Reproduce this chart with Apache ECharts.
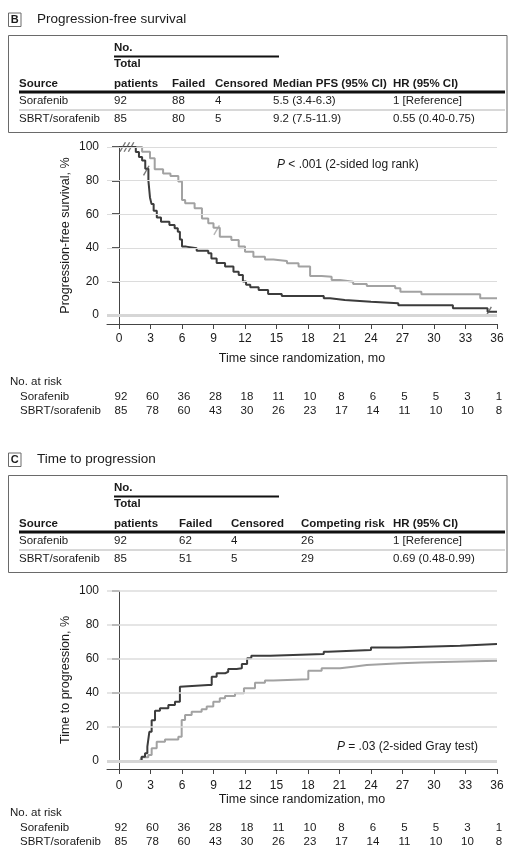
<!DOCTYPE html>
<html><head><meta charset="utf-8">
<script src="https://cdn.jsdelivr.net/npm/echarts@6/dist/echarts.min.js"></script>
<style>html,body{margin:0;padding:0;background:#fff}#c{width:519px;height:862px}</style>
</head><body><div id="c"></div>
<script>
// ---------- data ----------
const xTicks = [0,3,6,9,12,15,18,21,24,27,30,33,36];
const yTicks = [0,20,40,60,80,100];

// Progression-free survival (%), [month, value] step points
const pfsSorafenib = [[0,100],[1.3,100],[1.6,97],[1.9,94],[2.2,92],[2.5,87],[2.8,80],[2.95,70],[3.1,66],[3.3,62],[3.6,58],[4.0,55.5],[4.8,53.6],[5.3,51.6],[5.6,49.6],[5.8,45],[6.0,40.7],[6.4,39.7],[7.4,38.3],[8.5,36.7],[8.8,33.7],[9.3,31],[10.1,28.8],[10.9,25.8],[11.4,23.8],[11.8,20],[12.1,18],[12.5,16.5],[13.3,14.9],[14.2,12.5],[15.5,11.3],[19.5,9.9],[20.1,8.9],[21.5,7.9],[24.0,7],[26.6,5.8],[31.8,4],[35.1,2],[36,2]];
const pfsSBRT = [[0,100],[1.7,100],[2.2,97.2],[2.95,93.3],[3.4,86.7],[4.2,84.3],[4.9,82.7],[5.65,79.4],[6.0,68.5],[6.3,66.5],[7.2,63.5],[7.9,57.5],[8.5,54.6],[9.0,52],[9.6,46.6],[10.7,44.6],[11.4,40.7],[12.0,37.7],[12.8,34.7],[13.9,33.1],[14.7,32.1],[16.0,30.8],[17.1,28.8],[18.2,23.2],[19.3,22.8],[20.25,20.8],[21.05,19.8],[22.3,18.5],[23.6,17.3],[26.3,15.9],[26.8,13.9],[28.8,12.3],[34.4,9.9],[36,9.9]];
const pfsCensorSorafenib = [[0.35,100],[0.75,100],[1.15,100],[2.6,86],[35.2,2]];
const pfsCensorSBRT = [[9.3,50.5]];

// Time to progression (%), cumulative incidence
const ttpSorafenib = [[0,0],[1.84,0],[2.16,2.5],[2.48,4.5],[2.7,8.4],[2.89,17.2],[3.11,24],[3.43,29.6],[3.9,31],[4.7,32.9],[5.33,34.9],[5.8,43.7],[5.97,44.7],[8.5,44.7],[8.83,49.6],[9.3,51.6],[10.1,52.5],[10.4,54.1],[11.2,54.5],[11.7,57],[12.2,60.4],[12.6,61.9],[14.4,62.9],[19.5,64.3],[19.9,65.3],[24.0,66.7],[26.6,67.8],[32.5,68.8],[36,68.8]];
const ttpSBRT = [[0,0],[2.0,0],[2.16,2.2],[2.79,3.5],[3.11,7.5],[3.59,11.4],[4.38,12.7],[5.65,14.3],[5.97,24.1],[6.29,27],[6.92,29],[7.87,30.4],[8.35,32],[8.98,34.9],[9.6,36.9],[10.1,38.2],[11.05,39.8],[11.9,42.8],[12.95,46.1],[13.9,47.3],[14.7,48.1],[18.03,53.1],[19.3,54.5],[21.05,55.5],[22.3,56.5],[23.6,57.5],[26.8,58],[28.8,59],[36,59]];

const atRiskSorafenib = [92,60,36,28,18,11,10,8,6,5,5,3,1];
const atRiskSBRT = [85,78,60,43,30,26,23,17,14,11,10,10,8];
const groupNames = ['Sorafenib','SBRT/sorafenib'];

const tableBHeader = ['Source','patients','Failed','Censored','Median PFS (95% CI)','HR (95% CI)'];
const tableBRows = [['Sorafenib','92','88','4','5.5 (3.4-6.3)','1 [Reference]'],['SBRT/sorafenib','85','80','5','9.2 (7.5-11.9)','0.55 (0.40-0.75)']];
const tableCHeader = ['Source','patients','Failed','Censored','Competing risk','HR (95% CI)'];
const tableCRows = [['Sorafenib','92','62','4','26','1 [Reference]'],['SBRT/sorafenib','85','51','5','29','0.69 (0.48-0.99)']];

// ---------- chart ----------
const FONT = '"Liberation Sans", Arial, sans-serif';
const DARK = '#3c3c3c', GRAY = '#a2a2a2', TXT = '#1a1a1a';
const chart = echarts.init(document.getElementById('c'), null, {renderer:'canvas'});

function xAxisDef(gi, margin, gap){
  return {type:'value', gridIndex:gi, min:-1.143, max:36,
    axisLine:{show:true, onZero:false, lineStyle:{color:'#444', width:1}},
    axisTick:{show:true, inside:false, length:5, customValues:xTicks, lineStyle:{color:'#444'}},
    axisLabel:{customValues:xTicks, margin:margin, color:TXT, fontSize:12, fontFamily:FONT},
    splitLine:{show:false},
    name:'Time since randomization, mo', nameLocation:'middle', nameGap:gap,
    nameTextStyle:{color:TXT, fontSize:12.5, fontFamily:FONT}};
}
function yAxisDef(gi, min, name){
  return {type:'value', gridIndex:gi, min:min, max:100,
    axisLine:{show:true, lineStyle:{color:'#444', width:1}},
    axisTick:{show:true, inside:false, length:7, customValues:yTicks, lineStyle:{color:'#222', width:1.5}},
    axisLabel:{customValues:yTicks, margin:8, color:TXT, fontSize:12, fontFamily:FONT},
    splitLine:{show:false},
    name:name, nameLocation:'middle', nameGap:35, nameRotate:90, nameMoveOverlap:false,
    nameTextStyle:{color:TXT, fontSize:12.5, fontFamily:FONT}};
}
function gridLines(xi, yi, w){
  return {type:'line', xAxisIndex:xi, yAxisIndex:yi, data:[], silent:true, z:1,
    markLine:{silent:true, symbol:['none','none'], animation:false, label:{show:false},
      data: yTicks.map(v => ({yAxis:v, lineStyle:{type:'solid', color: v===0?'#d6d6d6':'#dcdcdc', width: v===0?3:w}}))}};
}
function curve(xi, yi, data, color){
  return {type:'line', xAxisIndex:xi, yAxisIndex:yi, data:data, step:'end', symbol:'none', z:3,
    lineStyle:{color:color, width:2}, animation:false};
}
function censor(data, color){
  return {type:'scatter', xAxisIndex:0, yAxisIndex:0, data:data, z:4,
    symbol:'path://M0,0 L1,0 L1,10 L0,10 Z', symbolSize:[1.4,11], symbolRotate:-30,
    itemStyle:{color:color}, animation:false};
}

chart.setOption({
  animation:false,
  textStyle:{fontFamily:FONT},
  grid:[{left:107, right:22, top:147, height:177},
        {left:107, right:22, top:591, height:178}],
  xAxis:[xAxisDef(0, 9, 28), xAxisDef(1, 11, 23)],
  yAxis:[yAxisDef(0, -5.357, 'Progression-free survival, %'), yAxisDef(1, -4.7, 'Time to progression, %')],
  series:[
    gridLines(0,0,1.2), gridLines(1,1,1.6),
    curve(0,0,pfsSBRT,GRAY), curve(0,0,pfsSorafenib,DARK),
    censor(pfsCensorSorafenib, '#555'), censor(pfsCensorSBRT, GRAY),
    curve(1,1,ttpSBRT,GRAY), curve(1,1,ttpSorafenib,DARK)
  ]
});

// ---------- text & tables ----------
function T(x, y, s, o){
  o = o || {};
  return {type:'text', x:x, y:y, silent:true, style:{text:s, fill:TXT, fontSize:o.size||11.5,
    fontWeight:o.bold?'bold':'normal', fontFamily:FONT, align:o.align||'left', verticalAlign:'middle'}};
}
function L(x1,y1,x2,y2,c,w){ return {type:'line', silent:true, shape:{x1:x1,y1:y1,x2:x2,y2:y2}, style:{stroke:c, lineWidth:w}}; }
function R(x,y,w,h){ return {type:'rect', silent:true, shape:{x:x,y:y,width:w,height:h}, style:{fill:'none', stroke:'#6a6a6a', lineWidth:1}}; }

const g = [];
function panelTitle(letter, title, y){
  g.push(R(8.5, y-6.5, 12.5, 13.5));
  g.push(T(14.8, y+0.5, letter, {bold:true, size:11, align:'center'}));
  g.push(T(37, y, title, {size:13.5}));
}
function table(top, header, rows, cols){
  const yNo = top+13, yRule = top+21.5, yTotal = top+29, yHead = top+49, yThick = top+57, yR1 = top+66, ySep = top+75, yR2 = top+84, bottom = top+97;
  g.push(R(8.5, top+0.5, 498.5, bottom-top));
  g.push(T(cols[1], yNo, 'No.', {bold:true}));
  g.push(L(cols[1], yRule, 279, yRule, '#111', 2.2));
  g.push(T(cols[1], yTotal, 'Total', {bold:true}));
  header.forEach((h,i) => g.push(T(cols[i], yHead, h, {bold:true})));
  g.push(L(19, yThick, 505, yThick, '#111', 3));
  g.push(L(19, ySep, 505, ySep, '#d8d8d8', 2));
  rows[0].forEach((v,i) => g.push(T(cols[i], yR1, v)));
  rows[1].forEach((v,i) => g.push(T(cols[i], yR2, v)));
}
panelTitle('B', 'Progression-free survival', 19.5);
table(35, tableBHeader, tableBRows, [19,114,172,215,273,393]);
panelTitle('C', 'Time to progression', 459.5);
table(475, tableCHeader, tableCRows, [19,114,179,231,301,393]);

// p-values
g.push({type:'text', silent:true, x:277, y:165, style:{text:'{i|P} < .001 (2-sided log rank)', fill:TXT, fontSize:12, fontFamily:FONT, verticalAlign:'middle', align:'left',
  rich:{i:{fontStyle:'italic', fontSize:12, fontFamily:FONT, fill:TXT}}}});
g.push({type:'text', silent:true, x:478, y:747, style:{text:'{i|P} = .03 (2-sided Gray test)', fill:TXT, fontSize:12, fontFamily:FONT, verticalAlign:'middle', align:'right',
  rich:{i:{fontStyle:'italic', fontSize:12, fontFamily:FONT, fill:TXT}}}});

// at-risk tables
function atRisk(xi, yHead){
  g.push(T(10, yHead, 'No. at risk'));
  g.push(T(20, yHead+15, groupNames[0]));
  g.push(T(20, yHead+29, groupNames[1]));
  xTicks.forEach((t,i) => {
    const px = chart.convertToPixel({xAxisIndex:xi}, t);
    g.push(T(px+2, yHead+15, String(atRiskSorafenib[i]), {align:'center'}));
    g.push(T(px+2, yHead+29, String(atRiskSBRT[i]), {align:'center'}));
  });
}
atRisk(0, 382);
atRisk(1, 813);

chart.setOption({graphic: g});
</script>
</body></html>
